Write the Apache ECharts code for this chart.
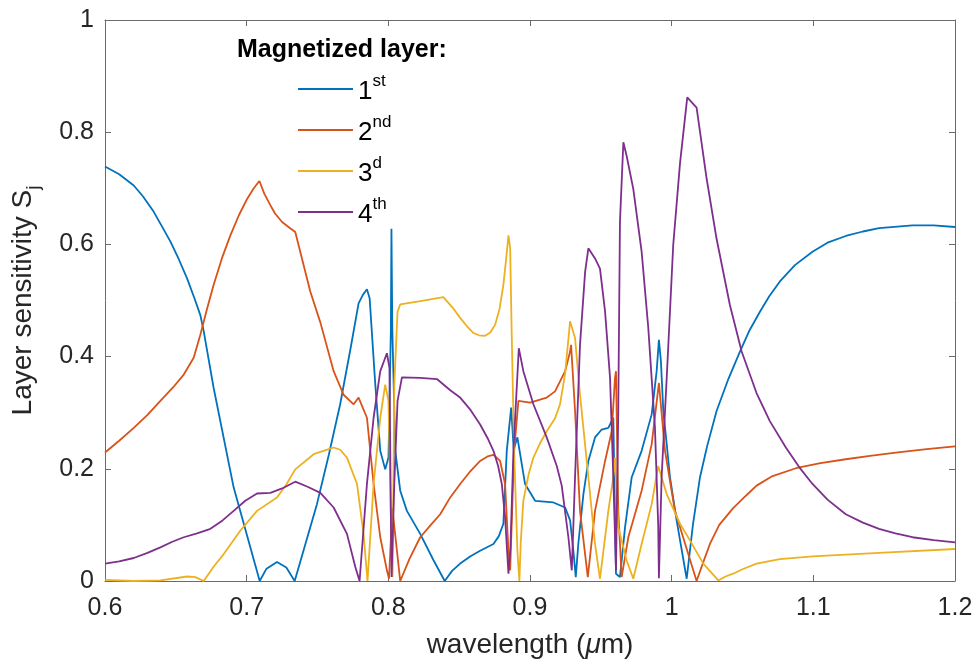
<!DOCTYPE html>
<html>
<head>
<meta charset="utf-8">
<script src="https://cdn.jsdelivr.net/npm/echarts@6/dist/echarts.min.js"></script>
<style>
html,body{margin:0;padding:0;background:#fff;}
#chart{width:976px;height:664px;}
</style>
</head>
<body>
<div id="chart"></div>
<script>
// ---------- data (wavelength in µm, layer sensitivity) ----------
const layer1 = [[0.6,0.739],[0.61,0.725],[0.6203,0.705],[0.627,0.685],[0.6344,0.658],[0.64,0.633],[0.6462,0.605],[0.652,0.574],[0.658,0.539],[0.663,0.505],[0.6673,0.474],[0.6697,0.445],[0.6767,0.344],[0.6908,0.167],[0.7092,0.0],[0.714,0.022],[0.7214,0.034],[0.728,0.024],[0.7339,0.0],[0.7496,0.137],[0.758,0.225],[0.766,0.315],[0.773,0.41],[0.779,0.495],[0.782,0.51],[0.7849,0.52],[0.7868,0.504],[0.7908,0.35],[0.7943,0.232],[0.7978,0.199],[0.8001,0.22],[0.8018,0.45],[0.8022,0.628],[0.8028,0.45],[0.8049,0.232],[0.8084,0.161],[0.8131,0.125],[0.8225,0.084],[0.8319,0.037],[0.8398,0.0],[0.845,0.018],[0.8507,0.031],[0.858,0.044],[0.8648,0.054],[0.8742,0.066],[0.878,0.08],[0.8812,0.102],[0.8836,0.232],[0.8867,0.309],[0.8885,0.235],[0.8911,0.256],[0.8965,0.173],[0.9036,0.143],[0.9165,0.14],[0.9248,0.131],[0.9283,0.108],[0.9306,0.054],[0.9323,0.007],[0.9341,0.066],[0.9377,0.155],[0.9412,0.214],[0.9459,0.256],[0.9506,0.27],[0.9553,0.273],[0.9588,0.291],[0.9607,0.013],[0.9635,0.007],[0.9671,0.096],[0.9718,0.185],[0.9788,0.232],[0.9859,0.297],[0.9894,0.374],[0.991,0.43],[0.9924,0.392],[0.9941,0.303],[0.9965,0.244],[0.9988,0.185],[1.0035,0.108],[1.0106,0.004],[1.015,0.1],[1.02,0.185],[1.025,0.24],[1.0317,0.303],[1.04,0.36],[1.0482,0.409],[1.055,0.447],[1.0623,0.48],[1.069,0.508],[1.0764,0.534],[1.087,0.563],[1.0994,0.587],[1.11,0.603],[1.1229,0.615],[1.135,0.623],[1.1464,0.629],[1.17,0.634],[1.185,0.634],[1.2,0.631]];

const layer2 = [[0.6,0.229],[0.61,0.25],[0.6203,0.273],[0.63,0.296],[0.6391,0.321],[0.648,0.345],[0.6556,0.368],[0.6626,0.398],[0.6673,0.439],[0.672,0.485],[0.6767,0.528],[0.6825,0.575],[0.6885,0.616],[0.6945,0.652],[0.7003,0.681],[0.705,0.7],[0.709,0.713],[0.7125,0.69],[0.7167,0.67],[0.72,0.655],[0.725,0.64],[0.73,0.63],[0.7343,0.622],[0.7449,0.516],[0.752,0.461],[0.7614,0.374],[0.7684,0.332],[0.7755,0.315],[0.779,0.327],[0.7849,0.291],[0.7896,0.173],[0.7943,0.078],[0.799,0.019],[0.8005,0.004],[0.8028,0.13],[0.8084,0.0],[0.815,0.04],[0.8225,0.078],[0.83,0.1],[0.8366,0.119],[0.8437,0.149],[0.8507,0.173],[0.858,0.196],[0.8648,0.214],[0.87,0.222],[0.8742,0.225],[0.8789,0.214],[0.8824,0.173],[0.8848,0.054],[0.886,0.019],[0.8888,0.232],[0.8918,0.321],[0.9001,0.318],[0.9118,0.327],[0.9177,0.338],[0.9212,0.356],[0.9248,0.374],[0.9283,0.409],[0.929,0.421],[0.9318,0.303],[0.9353,0.125],[0.9408,0.007],[0.9459,0.125],[0.953,0.214],[0.9577,0.267],[0.96,0.362],[0.9607,0.374],[0.9623,0.125],[0.9647,0.007],[0.9694,0.078],[0.9788,0.161],[0.9859,0.244],[0.991,0.353],[0.9953,0.232],[1.0023,0.125],[1.0059,0.096],[1.0176,0.0],[1.0225,0.035],[1.027,0.066],[1.0336,0.1],[1.0434,0.13],[1.0524,0.152],[1.0599,0.17],[1.0712,0.187],[1.0877,0.201],[1.105,0.21],[1.1229,0.217],[1.14,0.223],[1.1582,0.229],[1.18,0.235],[1.2,0.24]];

const layer3 = [[0.6,0.002],[0.62,0.0],[0.6391,0.001],[0.658,0.008],[0.6638,0.007],[0.6697,0.0],[0.6765,0.025],[0.6838,0.048],[0.6956,0.09],[0.7073,0.125],[0.7214,0.149],[0.728,0.172],[0.7343,0.199],[0.7473,0.226],[0.759,0.236],[0.7614,0.238],[0.766,0.234],[0.7708,0.22],[0.7779,0.173],[0.7825,0.084],[0.7853,0.0],[0.7896,0.173],[0.7943,0.291],[0.7978,0.35],[0.8001,0.321],[0.8018,0.114],[0.803,0.007],[0.8042,0.35],[0.8065,0.48],[0.8084,0.493],[0.8225,0.499],[0.8389,0.506],[0.8401,0.504],[0.8455,0.487],[0.8507,0.469],[0.8555,0.454],[0.8601,0.442],[0.864,0.438],[0.8683,0.437],[0.872,0.443],[0.8754,0.457],[0.8785,0.485],[0.8812,0.528],[0.883,0.57],[0.8848,0.616],[0.886,0.593],[0.8871,0.439],[0.8888,0.232],[0.8911,0.054],[0.8925,0.0],[0.8935,0.07],[0.8953,0.143],[0.899,0.19],[0.9024,0.22],[0.907,0.245],[0.9118,0.267],[0.9177,0.29],[0.9212,0.315],[0.9248,0.37],[0.9283,0.463],[0.9318,0.433],[0.9353,0.332],[0.9412,0.185],[0.9459,0.066],[0.9494,0.004],[0.9553,0.125],[0.9588,0.185],[0.96,0.22],[0.9623,0.096],[0.9682,0.037],[0.9729,0.004],[0.9788,0.066],[0.9859,0.137],[0.9905,0.205],[0.9929,0.185],[0.9965,0.155],[1.0059,0.102],[1.013,0.072],[1.0223,0.031],[1.0329,0.001],[1.038,0.008],[1.0434,0.013],[1.05,0.021],[1.0599,0.031],[1.0764,0.039],[1.0994,0.044],[1.1464,0.05],[1.2,0.057]];

const layer4 = [[0.6,0.031],[0.61,0.035],[0.6203,0.041],[0.63,0.05],[0.6391,0.06],[0.6475,0.07],[0.6556,0.078],[0.665,0.085],[0.6744,0.093],[0.683,0.108],[0.6908,0.125],[0.699,0.143],[0.7073,0.156],[0.7167,0.157],[0.725,0.165],[0.7343,0.177],[0.743,0.168],[0.752,0.157],[0.7614,0.131],[0.7708,0.084],[0.7767,0.025],[0.7797,0.0],[0.7849,0.173],[0.7896,0.291],[0.7943,0.374],[0.799,0.406],[0.8008,0.38],[0.8018,0.114],[0.8023,0.007],[0.8042,0.173],[0.8065,0.321],[0.8096,0.363],[0.8225,0.362],[0.8343,0.36],[0.8437,0.34],[0.8507,0.327],[0.858,0.305],[0.8648,0.279],[0.87,0.255],[0.8742,0.232],[0.8775,0.205],[0.8801,0.173],[0.8824,0.114],[0.8848,0.013],[0.8862,0.06],[0.8883,0.232],[0.8921,0.415],[0.8953,0.374],[0.9024,0.315],[0.9118,0.256],[0.9189,0.205],[0.9224,0.17],[0.9271,0.078],[0.9295,0.019],[0.9318,0.185],[0.9353,0.421],[0.9389,0.551],[0.9412,0.593],[0.9459,0.575],[0.9494,0.557],[0.953,0.48],[0.9565,0.362],[0.9588,0.185],[0.9607,0.019],[0.9623,0.303],[0.9635,0.64],[0.9659,0.782],[0.9682,0.758],[0.9729,0.699],[0.9788,0.587],[0.9835,0.451],[0.9882,0.273],[0.9905,0.1],[0.991,0.005],[0.9929,0.185],[0.9965,0.362],[1.0011,0.599],[1.0059,0.745],[1.011,0.862],[1.0176,0.844],[1.0247,0.717],[1.0317,0.61],[1.0411,0.492],[1.0494,0.409],[1.0599,0.335],[1.0693,0.285],[1.0806,0.238],[1.09,0.203],[1.0994,0.173],[1.11,0.145],[1.1229,0.119],[1.135,0.104],[1.1464,0.093],[1.158,0.085],[1.17,0.078],[1.185,0.073],[1.2,0.069]];

const seriesNames = ['1st','2nd','3d','4th'];
const ordinalBase = ['1','2','3','4'];
const ordinalSup = ['st','nd','d','th'];
const xTickLabels = ['0.6','0.7','0.8','0.9','1','1.1','1.2'];
const yTickLabels = ['0','0.2','0.4','0.6','0.8','1'];
const legendTitle = 'Magnetized layer:';
const colors = ['#0072BD','#D95319','#EDB120','#7E2F8E'];

// ---------- chart ----------
const FONT = '"Liberation Sans", Arial, Helvetica, sans-serif';
const TXT = '#262626';
const AX = '#6b6b6b';
const chart = echarts.init(document.getElementById('chart'), null, {renderer:'canvas'});
const layers = [layer1, layer2, layer3, layer4];

function xLab(v){ const i = Math.round((v-0.6)/0.1); return xTickLabels[i] !== undefined ? xTickLabels[i] : ''; }
function yLab(v){ const i = Math.round(v/0.2); return yTickLabels[i] !== undefined ? yTickLabels[i] : ''; }

const axCommon = {
  axisLine:{show:true, onZero:false, lineStyle:{color:AX, width:1}},
  axisTick:{show:true, inside:true, length:6, lineStyle:{color:AX, width:1}},
  splitLine:{show:false}
};

const option = {
  animation:false,
  backgroundColor:'#ffffff',
  color:colors,
  title:{
    text:legendTitle, left:237, top:37, padding:0,
    textStyle:{fontFamily:FONT, fontSize:25, fontWeight:'bold', color:'#000', lineHeight:26}
  },
  legend:{
    orient:'vertical', left:298, top:73, padding:0,
    itemWidth:55, itemHeight:2, itemGap:9, icon:'rect',
    data:seriesNames,
    formatter:function(name){ const i = seriesNames.indexOf(name); return '{b|'+ordinalBase[i]+'}{s|'+ordinalSup[i]+'}'; },
    textStyle:{
      fontFamily:FONT, color:'#000',
      rich:{
        b:{fontFamily:FONT, fontSize:26, color:'#000', lineHeight:32, verticalAlign:'bottom'},
        s:{fontFamily:FONT, fontSize:17, color:'#000', lineHeight:18, verticalAlign:'top'}
      }
    }
  },
  grid:{left:105, right:21, top:20, bottom:80, containLabel:false},
  xAxis:[
    Object.assign({
      type:'value', min:0.6, max:1.2, interval:0.1, position:'bottom',
      name:'{n|wavelength (}{i|\u03bc}{n|m)}', nameLocation:'middle', nameGap:50,
      nameTextStyle:{rich:{
        n:{fontFamily:FONT, fontSize:28, color:TXT},
        i:{fontFamily:FONT, fontSize:28, color:TXT, fontStyle:'italic'}
      }},
      axisLabel:{fontFamily:FONT, fontSize:25, color:TXT, margin:15, formatter:xLab}
    }, axCommon),
    Object.assign({
      type:'value', min:0.6, max:1.2, interval:0.1, position:'top',
      axisLabel:{show:false}
    }, axCommon)
  ],
  yAxis:[
    Object.assign({
      type:'value', min:0, max:1, interval:0.2, position:'left',
      name:'{n|Layer sensitivity S}{j|j}', nameLocation:'middle', nameGap:62,
      nameTextStyle:{rich:{
        n:{fontFamily:FONT, fontSize:28, color:TXT, lineHeight:34, verticalAlign:'top'},
        j:{fontFamily:FONT, fontSize:19, color:TXT, lineHeight:34, verticalAlign:'bottom'}
      }},
      axisLabel:{fontFamily:FONT, fontSize:25, color:TXT, margin:11, formatter:yLab}
    }, axCommon),
    Object.assign({
      type:'value', min:0, max:1, interval:0.2, position:'right',
      axisLabel:{show:false}
    }, axCommon)
  ],
  series: layers.map(function(d, i){
    return {
      name:seriesNames[i], type:'line', data:d, xAxisIndex:0, yAxisIndex:0,
      showSymbol:false, symbol:'none', clip:true,
      lineStyle:{width:1.8, color:colors[i]},
      itemStyle:{color:colors[i]},
      emphasis:{disabled:true}
    };
  })
};
chart.setOption(option);
</script>
</body>
</html>
